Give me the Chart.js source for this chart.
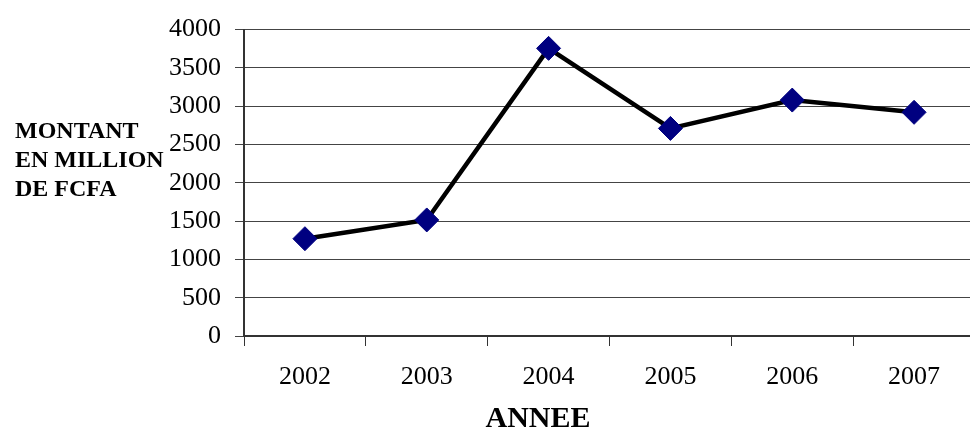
<!DOCTYPE html>
<html>
<head>
<meta charset="utf-8">
<script src="https://cdn.jsdelivr.net/npm/chart.js@4"></script>
<style>
  html, body { margin: 0; padding: 0; background: #fff; overflow: hidden; }
  /* plot runs a few pixels past the right edge of the window */
  #wrap { width: 975px; height: 433px; position: relative; }
</style>
</head>
<body>
<div id="wrap"><canvas id="montantChart"></canvas></div>
<script>
// Montant annuel (millions FCFA)
const years = ['2002', '2003', '2004', '2005', '2006', '2007'];
const montants = [1270, 1515, 3755, 2710, 3080, 2920];
const yTicks = [0, 500, 1000, 1500, 2000, 2500, 3000, 3500, 4000];
const yTitleLines = ['MONTANT', 'EN MILLION', 'DE FCFA'];
const xTitle = 'ANNEE';

const serif = '"Liberation Serif", "Times New Roman", serif';

// axis titles drawn as free text, like the original layout
const axisTitles = {
  id: 'axisTitles',
  afterDraw(chart) {
    const ctx = chart.ctx;
    ctx.save();
    ctx.fillStyle = '#000';
    ctx.textBaseline = 'middle';
    ctx.font = 'bold 24px ' + serif;
    ctx.textAlign = 'left';
    yTitleLines.forEach((line, i) => {
      ctx.fillText(line, 15, 132 + i * 29);
    });
    ctx.font = 'bold 30px ' + serif;
    ctx.textAlign = 'center';
    ctx.fillText(xTitle, 538, 419);
    ctx.restore();
  }
};

new Chart(document.getElementById('montantChart'), {
  type: 'line',
  data: {
    labels: years,
    datasets: [{
      data: montants,
      borderColor: '#000',
      borderWidth: 4.5,
      tension: 0,
      pointStyle: 'rectRot',
      pointRadius: 12,
      pointHoverRadius: 12,
      pointBackgroundColor: '#000080',
      pointBorderColor: '#000080',
      pointBorderWidth: 1
    }]
  },
  options: {
    responsive: true,
    maintainAspectRatio: false,
    animation: false,
    layout: {
      autoPadding: false,
      padding: { top: 27, left: 0, right: 0, bottom: 0 }
    },
    plugins: {
      legend: { display: false },
      tooltip: { enabled: false }
    },
    scales: {
      x: {
        offset: true,
        afterFit: function(scale) {
          scale.height = 97;
        },
        grid: {
          offset: true,
          drawOnChartArea: false,
          tickLength: 10,
          color: '#333'
        },
        border: { color: '#333', width: 2 },
        ticks: {
          color: '#000',
          padding: 16,
          font: { family: serif, size: 26 }
        }
      },
      y: {
        min: 0,
        max: 4000,
        afterFit: function(scale) { scale.width = 244; },
        afterBuildTicks: function(scale) {
          scale.ticks = yTicks.map(v => ({ value: v }));
        },
        grid: {
          color: '#444',
          lineWidth: 1,
          tickLength: 9
        },
        border: { color: '#333', width: 2 },
        ticks: {
          color: '#000',
          padding: 14,
          font: { family: serif, size: 26 },
          callback: function(value) { return String(value); }
        }
      }
    }
  },
  plugins: [axisTitles]
});
</script>
</body>
</html>
